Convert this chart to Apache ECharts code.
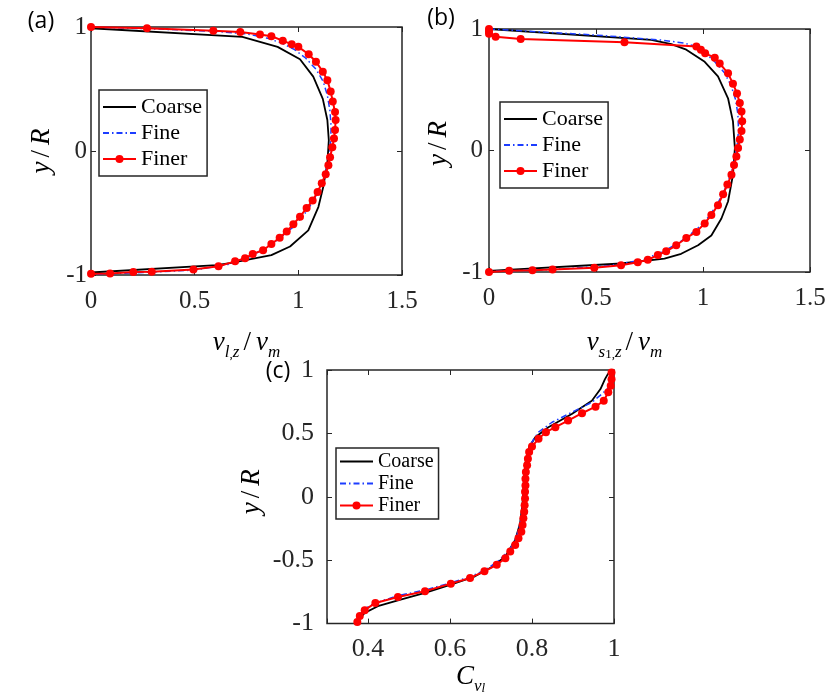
<!DOCTYPE html>
<html>
<head>
<meta charset="utf-8">
<script src="https://cdn.jsdelivr.net/npm/echarts@6/dist/echarts.min.js"></script>
<style>
html, body { margin: 0; padding: 0; background: #fff; }
#chart { width: 830px; height: 696px; }
</style>
</head>
<body>
<div id="chart"></div>
<script>
// (a) liquid axial velocity, [v/vm, y/R]
var aCoarse = [[0,0.99],[0.73,0.92],[0.9,0.84],[1.008,0.74],[1.072,0.60],[1.118,0.42],[1.14,0.25],[1.147,0.087],
    [1.14,-0.10],[1.12,-0.29],[1.097,-0.45],[1.048,-0.64],[0.96,-0.77],[0.87,-0.84],[0.67,-0.905],[0.606,-0.92],[0,-0.98]];
var aFine = [[0,1.0],[0.3,0.985],[0.6,0.965],[0.75,0.945],[0.85,0.91],[0.92,0.87],[0.98,0.82],[1.035,0.75],[1.085,0.66],
    [1.12,0.56],[1.14,0.45],[1.152,0.33],[1.158,0.2],[1.156,0.08],[1.148,-0.05],[1.132,-0.17],[1.105,-0.29],[1.07,-0.41],
    [1.025,-0.52],[0.97,-0.62],[0.905,-0.71],[0.835,-0.79],[0.755,-0.86],[0.66,-0.915],[0.5,-0.96],[0.25,-0.98],[0,-0.995]];
var aFiner = [[0,1.0],[0.27,0.99],[0.59,0.97],[0.72,0.96],[0.815,0.94],[0.87,0.925],[0.925,0.89],[0.968,0.86],[1.0,0.84],
    [1.05,0.78],[1.085,0.72],[1.118,0.64],[1.14,0.57],[1.156,0.48],[1.166,0.40],[1.177,0.315],[1.18,0.25],[1.177,0.17],
    [1.172,0.10],[1.164,0.03],[1.153,-0.05],[1.145,-0.114],[1.132,-0.187],[1.113,-0.26],[1.093,-0.33],[1.069,-0.40],
    [1.04,-0.46],[1.008,-0.53],[0.976,-0.59],[0.944,-0.65],[0.91,-0.70],[0.87,-0.75],[0.83,-0.80],[0.78,-0.83],
    [0.743,-0.865],[0.695,-0.89],[0.615,-0.93],[0.494,-0.955],[0.293,-0.973],[0.204,-0.976],[0.092,-0.987],[0,-0.99]];

// (b) solid phase axial velocity
var bCoarse = [[0,1.0],[0.758,0.91],[0.852,0.876],[0.922,0.83],[1.008,0.73],[1.07,0.61],[1.117,0.43],[1.14,0.24],
    [1.149,0.02],[1.14,-0.20],[1.117,-0.42],[1.086,-0.56],[1.039,-0.70],[0.977,-0.78],[0.898,-0.85],[0.82,-0.89],
    [0.617,-0.93],[0,-0.99]];
var bFine = [[0,1.0],[0.5,0.95],[0.8,0.91],[0.91,0.885],[0.96,0.86],[1.005,0.81],[1.05,0.74],[1.1,0.64],[1.13,0.54],
    [1.152,0.42],[1.163,0.3],[1.166,0.17],[1.16,0.05],[1.15,-0.06],[1.133,-0.18],[1.108,-0.3],[1.073,-0.42],[1.03,-0.54],
    [0.97,-0.65],[0.895,-0.75],[0.815,-0.83],[0.72,-0.9],[0.55,-0.95],[0.3,-0.98],[0,-0.995]];
var bFiner = [[0,1.0],[0,0.98],[0,0.96],[0.031,0.937],[0.148,0.918],[0.633,0.89],[0.969,0.855],[0.99,0.83],[1.01,0.80],
    [1.055,0.764],[1.078,0.717],[1.117,0.635],[1.14,0.55],[1.159,0.47],[1.172,0.39],[1.18,0.32],[1.183,0.24],[1.18,0.16],
    [1.172,0.09],[1.164,0.02],[1.156,-0.05],[1.145,-0.12],[1.133,-0.20],[1.114,-0.28],[1.094,-0.36],[1.07,-0.45],
    [1.039,-0.53],[1.008,-0.60],[0.969,-0.67],[0.922,-0.72],[0.875,-0.78],[0.828,-0.83],[0.789,-0.86],[0.742,-0.90],
    [0.695,-0.92],[0.617,-0.945],[0.492,-0.965],[0.297,-0.98],[0.203,-0.985],[0.094,-0.99],[0,-1.0]];

// (c) liquid volume fraction
var cCoarse = [[0.374,-0.98],[0.392,-0.915],[0.424,-0.863],[0.473,-0.816],[0.539,-0.758],[0.602,-0.693],[0.661,-0.627],
    [0.702,-0.554],[0.735,-0.47],[0.759,-0.34],[0.771,-0.209],[0.777,-0.052],[0.78,0.13],[0.785,0.287],[0.793,0.392],
    [0.808,0.47],[0.84,0.549],[0.897,0.653],[0.946,0.758],[0.967,0.85],[0.978,0.928],[0.986,0.973]];
var cFine = [[0.372,-0.98],[0.388,-0.89],[0.416,-0.84],[0.473,-0.78],[0.54,-0.735],[0.6,-0.68],[0.65,-0.63],[0.69,-0.57],
    [0.72,-0.5],[0.745,-0.42],[0.762,-0.32],[0.772,-0.2],[0.778,-0.05],[0.781,0.1],[0.784,0.25],[0.79,0.36],[0.80,0.432],
    [0.816,0.51],[0.849,0.588],[0.897,0.666],[0.946,0.745],[0.97,0.81],[0.992,0.875],[0.995,0.97]];
var cFiner = [[0.374,-0.988],[0.38,-0.94],[0.392,-0.894],[0.418,-0.837],[0.473,-0.79],[0.539,-0.745],[0.602,-0.685],
    [0.649,-0.64],[0.684,-0.588],[0.714,-0.536],[0.735,-0.484],[0.747,-0.431],[0.759,-0.38],[0.767,-0.327],[0.774,-0.275],
    [0.777,-0.223],[0.779,-0.17],[0.781,-0.118],[0.782,-0.066],[0.783,-0.013],[0.783,0.039],[0.784,0.09],[0.784,0.143],
    [0.785,0.196],[0.788,0.248],[0.79,0.30],[0.793,0.353],[0.80,0.397],[0.816,0.457],[0.834,0.51],[0.857,0.549],
    [0.888,0.601],[0.922,0.659],[0.955,0.711],[0.975,0.758],[0.986,0.824],[0.992,0.875],[0.994,0.928],[0.994,0.98]];

var seriesNames = ['Coarse', 'Fine', 'Finer'];
var panelLabels = ['(a)', '(b)', '(c)'];

var serif = 'Liberation Serif';
var frame = '#262626';
var none = 'rgba(0,0,0,0)';

var mathRich = {
    i: { fontFamily: serif, fontStyle: 'italic', fontSize: 27, lineHeight: 36, color: '#000' },
    n: { fontFamily: serif, fontSize: 27, lineHeight: 36, color: '#000', padding: [0, 5, 0, 4] },
    s: { fontFamily: serif, fontStyle: 'italic', fontSize: 17, lineHeight: 17, verticalAlign: 'bottom', color: '#000' },
    ss: { fontFamily: serif, fontStyle: 'italic', fontSize: 13, lineHeight: 12, verticalAlign: 'bottom', color: '#000' },
    sn: { fontFamily: serif, fontSize: 13, lineHeight: 12, verticalAlign: 'bottom', color: '#000' }
};

var tick = { inside: true, length: 5, lineStyle: { color: frame, width: 1 } };
var noLine = { show: false, onZero: false };

var mirrorX = function(grid, opts) {
    return Object.assign({
        gridIndex: grid, type: 'value', position: 'top',
        axisLine: noLine, axisTick: tick, axisLabel: { show: false }, splitLine: { show: false }
    }, opts);
};
var mirrorY = function(grid, opts) {
    return Object.assign({
        gridIndex: grid, type: 'value', position: 'right',
        axisLine: noLine, axisTick: tick, axisLabel: { show: false }, splitLine: { show: false }
    }, opts);
};

var tickLabel = function(size, margin) {
    return { fontFamily: serif, fontSize: size, color: frame, margin: margin };
};

var xa = { min: 0, max: 1.5, interval: 0.5 };
var ya = { min: -1, max: 1, interval: 1 };
var xc = { min: 0.3, max: 1, splitNumber: 4 };
var yc = { min: -1, max: 1, interval: 0.5 };

var yName = '{i|y}{n|/}{i|R}';

var option = {
    animation: false,
    backgroundColor: '#fff',
    grid: [
        { left: 91, top: 27, width: 311, height: 248, show: true, borderColor: frame, borderWidth: 1.5, backgroundColor: '#fff' },
        { left: 489, top: 29, width: 321, height: 243, show: true, borderColor: frame, borderWidth: 1.5, backgroundColor: '#fff' },
        { left: 327, top: 370, width: 287, height: 256, show: true, borderColor: frame, borderWidth: 1.5, backgroundColor: '#fff' }
    ],
    xAxis: [
        Object.assign({
            gridIndex: 0, type: 'value', axisLine: noLine, axisTick: tick, splitLine: { show: false },
            axisLabel: tickLabel(25, 14),
            name: '{i|v}{s|l}{sn|,}{s|z}{n|/}{i|v}{s|m}', nameLocation: 'middle', nameGap: 50,
            nameTextStyle: { rich: mathRich }
        }, xa),
        Object.assign({
            gridIndex: 1, type: 'value', axisLine: noLine, axisTick: tick, splitLine: { show: false },
            axisLabel: tickLabel(25, 14),
            name: '{i|v}{s|s}{sn|1}{sn|,}{s|z}{n|/}{i|v}{s|m}', nameLocation: 'middle', nameGap: 53,
            nameTextStyle: { rich: mathRich, padding: [0, 50, 0, 0] }
        }, xa),
        Object.assign({
            gridIndex: 2, type: 'value', axisLine: noLine, axisTick: tick, splitLine: { show: false },
            axisLabel: Object.assign(tickLabel(26, 13), {
                formatter: function(v) { return v < 0.35 ? '' : String(+v.toFixed(1)); }
            }),
            name: '{i|C}{s|v}{ss|l}', nameLocation: 'middle', nameGap: 27,
            nameTextStyle: { rich: mathRich }
        }, xc),
        mirrorX(0, xa), mirrorX(1, xa), mirrorX(2, xc)
    ],
    yAxis: [
        Object.assign({
            gridIndex: 0, type: 'value', axisLine: noLine, axisTick: tick, splitLine: { show: false },
            axisLabel: tickLabel(25, 4),
            name: yName, nameLocation: 'middle', nameRotate: 90, nameGap: 31,
            nameTextStyle: { rich: mathRich }
        }, ya),
        Object.assign({
            gridIndex: 1, type: 'value', axisLine: noLine, axisTick: tick, splitLine: { show: false },
            axisLabel: tickLabel(25, 6),
            name: yName, nameLocation: 'middle', nameRotate: 90, nameGap: 32,
            nameTextStyle: { rich: mathRich, padding: [0, 0, 0, 14] }
        }, ya),
        Object.assign({
            gridIndex: 2, type: 'value', axisLine: noLine, axisTick: tick, splitLine: { show: false },
            axisLabel: tickLabel(26, 13),
            name: yName, nameLocation: 'middle', nameRotate: 90, nameGap: 57,
            nameTextStyle: { rich: mathRich, padding: [0, 0, 0, 10] }
        }, yc),
        mirrorY(0, ya), mirrorY(1, ya), mirrorY(2, yc)
    ],
    legend: [
        { left: 99, top: 90, fontSize: 22, lineHeight: 24, gap: 2, pad: [5, 5, 5, 3] },
        { left: 500, top: 102, fontSize: 22, lineHeight: 24, gap: 2, pad: [5, 5, 5, 3] },
        { left: 336, top: 448, fontSize: 20, lineHeight: 21, gap: 1, pad: [3, 5, 3, 3] }
    ].map(function(l) {
        return {
            data: [
                { name: seriesNames[0], itemStyle: { color: none, borderColor: none, borderWidth: 0 } },
                { name: seriesNames[1], itemStyle: { color: none, borderColor: none, borderWidth: 0 } },
                { name: seriesNames[2] }
            ],
            orient: 'vertical', left: l.left, top: l.top,
            itemWidth: 33, itemHeight: 10, itemGap: l.gap, itemTextGap: 2, padding: l.pad,
            backgroundColor: '#fff', borderColor: frame, borderWidth: 1.5, borderRadius: 0,
            selectedMode: false,
            textStyle: { fontFamily: serif, fontSize: l.fontSize, lineHeight: l.lineHeight, color: '#000' }
        };
    }),
    graphic: [[41, 21], [441, 18], [278, 371]].map(function(p, i) {
        return {
            type: 'text', x: p[0], y: p[1], z: 100,
            style: { text: panelLabels[i], font: '23px "Open Sans"', fill: '#000', align: 'center', verticalAlign: 'middle' }
        };
    }),
    series: []
};

var panels = [[aCoarse, aFine, aFiner], [bCoarse, bFine, bFiner], [cCoarse, cFine, cFiner]];
panels.forEach(function(p, k) {
    option.series.push({
        type: 'line', name: 'Coarse', xAxisIndex: k, yAxisIndex: k, data: p[0],
        symbol: 'none', lineStyle: { color: '#000', width: 1.8 }, itemStyle: { color: '#000' }
    });
    option.series.push({
        type: 'line', name: 'Fine', xAxisIndex: k, yAxisIndex: k, data: p[1],
        symbol: 'none', lineStyle: { color: '#1c3dff', width: 1.5, type: [6, 3, 1.5, 3] }, itemStyle: { color: '#1c3dff' }
    });
    option.series.push({
        type: 'line', name: 'Finer', xAxisIndex: k, yAxisIndex: k, data: p[2],
        symbol: 'circle', symbolSize: 8, lineStyle: { color: '#ff0000', width: 2 }, itemStyle: { color: '#ff0000' }
    });
});

var chart = echarts.init(document.getElementById('chart'));
chart.setOption(option);
</script>
</body>
</html>
